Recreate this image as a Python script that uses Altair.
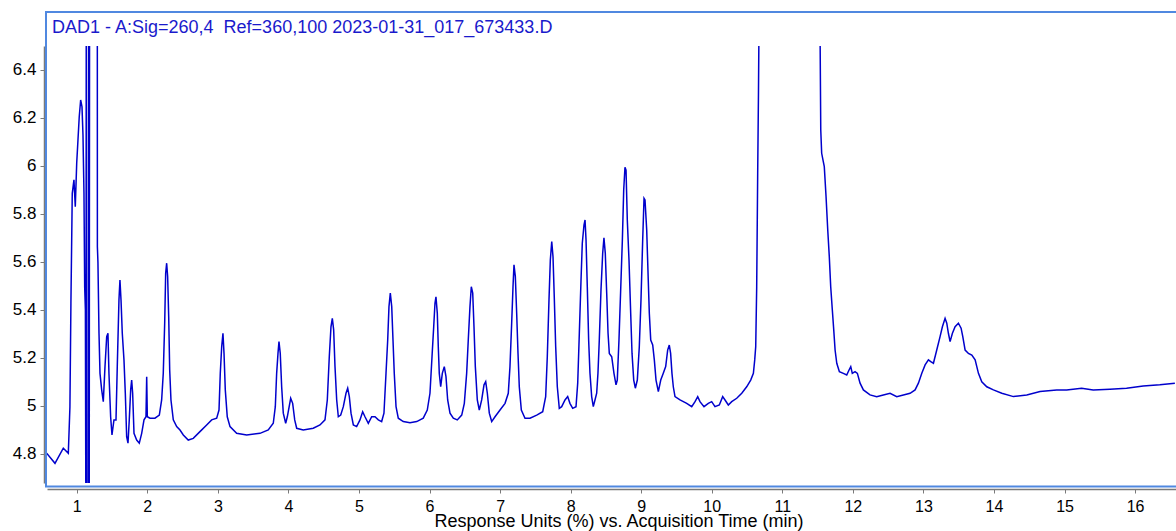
import altair as alt
import pandas as pd

# DAD1 chromatogram trace: retention time (min) and response (%)
time_min = [
    0.573, 0.691, 0.809, 0.880, 0.903, 0.917, 0.936, 0.960, 0.979, 0.999,
    1.017, 1.035, 1.055, 1.074, 1.088, 1.102, 1.112, 1.122, 1.130, 1.135,
    1.143, 1.165, 1.170, 1.176, 1.182, 1.291, 1.292, 1.300, 1.315, 1.329,
    1.353, 1.376, 1.400, 1.424, 1.442, 1.456, 1.480, 1.499, 1.527, 1.556,
    1.574, 1.598, 1.612, 1.627, 1.645, 1.669, 1.688, 1.707, 1.726, 1.744,
    1.764, 1.778, 1.792, 1.811, 1.849, 1.886, 1.920, 1.953, 1.981, 1.991,
    2.000, 2.038, 2.108, 2.170, 2.203, 2.226, 2.246, 2.260, 2.274, 2.288,
    2.303, 2.317, 2.335, 2.368, 2.416, 2.463, 2.510, 2.580, 2.651, 2.746,
    2.841, 2.912, 2.983, 3.016, 3.034, 3.054, 3.072, 3.087, 3.105, 3.133,
    3.172, 3.266, 3.408, 3.597, 3.714, 3.785, 3.814, 3.833, 3.852, 3.866,
    3.884, 3.904, 3.927, 3.961, 3.984, 4.032, 4.060, 4.089, 4.117, 4.210,
    4.352, 4.447, 4.518, 4.551, 4.579, 4.603, 4.622, 4.641, 4.660, 4.684,
    4.707, 4.741, 4.778, 4.816, 4.840, 4.863, 4.887, 4.920, 4.967, 5.014,
    5.052, 5.085, 5.132, 5.180, 5.227, 5.274, 5.321, 5.354, 5.383, 5.407,
    5.425, 5.444, 5.464, 5.482, 5.500, 5.525, 5.557, 5.628, 5.723, 5.818,
    5.911, 5.968, 6.006, 6.035, 6.059, 6.077, 6.091, 6.110, 6.124, 6.138,
    6.158, 6.181, 6.209, 6.233, 6.257, 6.290, 6.337, 6.393, 6.456, 6.493,
    6.526, 6.549, 6.573, 6.592, 6.612, 6.630, 6.649, 6.677, 6.705, 6.739,
    6.772, 6.796, 6.819, 6.847, 6.881, 6.928, 6.999, 7.070, 7.116, 7.140,
    7.164, 7.183, 7.197, 7.216, 7.235, 7.254, 7.272, 7.301, 7.353, 7.424,
    7.519, 7.604, 7.646, 7.669, 7.693, 7.712, 7.732, 7.750, 7.769, 7.788,
    7.811, 7.839, 7.873, 7.920, 7.958, 7.990, 8.029, 8.076, 8.100, 8.123,
    8.147, 8.165, 8.189, 8.204, 8.218, 8.236, 8.255, 8.274, 8.298, 8.321,
    8.345, 8.369, 8.387, 8.406, 8.430, 8.454, 8.472, 8.491, 8.511, 8.530,
    8.548, 8.582, 8.614, 8.643, 8.661, 8.685, 8.709, 8.733, 8.752, 8.770,
    8.785, 8.803, 8.827, 8.851, 8.870, 8.894, 8.917, 8.945, 8.973, 8.997,
    9.021, 9.040, 9.054, 9.078, 9.100, 9.115, 9.135, 9.163, 9.186, 9.210,
    9.243, 9.277, 9.313, 9.347, 9.375, 9.398, 9.417, 9.436, 9.455, 9.479,
    9.550, 9.645, 9.716, 9.763, 9.801, 9.833, 9.890, 9.951, 9.999, 10.046,
    10.107, 10.155, 10.188, 10.235, 10.283, 10.354, 10.425, 10.495, 10.552, 10.590,
    10.609, 10.623, 10.637, 10.651, 10.662, 10.670, 11.100, 11.534, 11.545, 11.558,
    11.581, 11.595, 11.620, 11.644, 11.666, 11.686, 11.709, 11.729, 11.748, 11.772,
    11.809, 11.865, 11.913, 11.946, 11.970, 11.992, 12.031, 12.064, 12.102, 12.149,
    12.243, 12.338, 12.432, 12.527, 12.622, 12.716, 12.811, 12.882, 12.929, 12.977,
    13.024, 13.071, 13.104, 13.142, 13.189, 13.236, 13.269, 13.307, 13.331, 13.354,
    13.378, 13.411, 13.449, 13.496, 13.534, 13.558, 13.591, 13.638, 13.686, 13.733,
    13.780, 13.827, 13.898, 13.992, 14.111, 14.276, 14.465, 14.653, 14.889, 15.030,
    15.242, 15.407, 15.643, 15.879, 16.115, 16.351, 16.564,
]
response = [
    4.803, 4.761, 4.824, 4.803, 4.997, 5.428, 5.886, 5.942, 5.830, 6.011,
    6.108, 6.205, 6.275, 6.247, 6.129, 5.886, 5.497, 5.400, 4.400, 7.000,
    4.400, 4.400, 7.000, 4.400, 7.000, 7.000, 5.664, 5.600, 5.303, 5.136,
    5.067, 5.018, 5.164, 5.289, 5.303, 5.136, 4.955, 4.879, 4.942, 4.942,
    5.164, 5.442, 5.525, 5.442, 5.303, 5.192, 5.053, 4.872, 4.845, 4.942,
    5.067, 5.108, 5.053, 4.886, 4.858, 4.845, 4.886, 4.942, 4.955, 5.122,
    4.955, 4.949, 4.949, 4.962, 5.025, 5.136, 5.345, 5.553, 5.595, 5.539,
    5.372, 5.150, 5.025, 4.942, 4.914, 4.900, 4.879, 4.858, 4.865, 4.893,
    4.921, 4.942, 4.949, 4.983, 5.136, 5.247, 5.303, 5.219, 5.067, 4.955,
    4.914, 4.886, 4.879, 4.886, 4.900, 4.928, 4.997, 5.136, 5.219, 5.268,
    5.219, 5.080, 4.970, 4.928, 4.955, 5.032, 5.011, 4.942, 4.907, 4.900,
    4.907, 4.921, 4.942, 5.025, 5.205, 5.330, 5.365, 5.317, 5.164, 5.025,
    4.955, 4.962, 4.997, 5.053, 5.074, 5.039, 4.970, 4.921, 4.914, 4.942,
    4.976, 4.955, 4.928, 4.955, 4.955, 4.942, 4.935, 4.970, 5.136, 5.275,
    5.414, 5.470, 5.414, 5.275, 5.136, 4.997, 4.949, 4.935, 4.930, 4.935,
    4.949, 4.983, 5.053, 5.205, 5.330, 5.428, 5.455, 5.386, 5.247, 5.136,
    5.080, 5.136, 5.164, 5.122, 5.025, 4.970, 4.949, 4.942, 4.962, 5.011,
    5.136, 5.275, 5.414, 5.497, 5.470, 5.330, 5.164, 5.025, 4.983, 5.025,
    5.088, 5.101, 5.053, 4.970, 4.935, 4.955, 4.983, 5.011, 5.053, 5.164,
    5.345, 5.497, 5.588, 5.539, 5.386, 5.219, 5.080, 4.983, 4.949, 4.949,
    4.962, 4.976, 5.039, 5.205, 5.442, 5.608, 5.685, 5.622, 5.442, 5.247,
    5.080, 4.990, 4.997, 5.025, 5.039, 5.011, 4.990, 4.997, 5.095, 5.303,
    5.525, 5.678, 5.754, 5.775, 5.692, 5.497, 5.275, 5.136, 5.039, 4.997,
    5.025, 5.053, 5.136, 5.275, 5.483, 5.636, 5.701, 5.636, 5.470, 5.303,
    5.219, 5.205, 5.136, 5.088, 5.108, 5.275, 5.483, 5.692, 5.900, 5.995,
    5.983, 5.775, 5.608, 5.386, 5.219, 5.108, 5.074, 5.108, 5.247, 5.442,
    5.692, 5.865, 5.858, 5.733, 5.525, 5.386, 5.275, 5.254, 5.192, 5.108,
    5.060, 5.108, 5.136, 5.164, 5.233, 5.254, 5.219, 5.136, 5.080, 5.039,
    5.025, 5.011, 4.997, 5.018, 5.039, 5.018, 4.997, 5.011, 5.018, 4.997,
    5.004, 5.039, 5.025, 5.004, 5.018, 5.032, 5.053, 5.080, 5.108, 5.136,
    5.192, 5.247, 5.497, 5.970, 6.300, 6.600, 9.000, 6.600, 6.150, 6.053,
    6.018, 5.997, 5.872, 5.733, 5.622, 5.497, 5.400, 5.317, 5.233, 5.178,
    5.143, 5.136, 5.129, 5.150, 5.164, 5.136, 5.143, 5.136, 5.095, 5.067,
    5.046, 5.039, 5.046, 5.053, 5.039, 5.046, 5.053, 5.067, 5.095, 5.136,
    5.171, 5.192, 5.185, 5.178, 5.233, 5.289, 5.330, 5.365, 5.345, 5.303,
    5.268, 5.303, 5.330, 5.345, 5.324, 5.289, 5.233, 5.219, 5.212, 5.192,
    5.136, 5.101, 5.080, 5.067, 5.053, 5.039, 5.046, 5.060, 5.067, 5.067,
    5.074, 5.067, 5.070, 5.074, 5.083, 5.088, 5.095,
]

x_ticks = list(range(1, 17))
y_ticks = [4.8, 5.0, 5.2, 5.4, 5.6, 5.8, 6.0, 6.2, 6.4]
header_text = ["DAD1 - A:Sig=260,4\u00a0 Ref=360,100 2023-01-31_017_673433.D"]
x_title_text = ["Response Units (%) vs. Acquisition Time (min)"]

TRACE_BLUE = "#0000cc"
FRAME_BLUE = "#5088e0"
AXIS_GRAY = "#7a7a7a"
FONT = "Liberation Sans"

W, H = 1129, 437

trace_df = pd.DataFrame({"time": time_min, "response": response})

trace = alt.Chart(trace_df).mark_line(
    color=TRACE_BLUE, strokeWidth=1.5, clip=True
).encode(
    x=alt.X(
        "time:Q",
        scale=alt.Scale(domain=[0.578, 16.58], nice=False, zero=False),
        axis=alt.Axis(
            values=x_ticks, format="d", title=None, grid=False, offset=6,
            tickSize=4, tickColor=AXIS_GRAY, domainColor=AXIS_GRAY,
            domainWidth=1.5, labelFont=FONT, labelFontSize=16,
            labelColor="#000000", labelPadding=5,
        ),
    ),
    y=alt.Y(
        "response:Q",
        scale=alt.Scale(domain=[4.679, 6.5], nice=False, zero=False),
        axis=alt.Axis(
            values=y_ticks, format=".2~f", title=None, grid=False, offset=3,
            tickSize=4, tickColor=AXIS_GRAY, domainColor=AXIS_GRAY,
            domainWidth=1.5, labelFont=FONT, labelFontSize=17,
            labelColor="#000000", labelPadding=4,
        ),
    ),
)

# Blue box around the plot, taller than the data area to hold the header
frame = alt.Chart(pd.DataFrame({"k": [0]})).mark_rect(
    filled=False, stroke=FRAME_BLUE, strokeWidth=2
).encode(
    x=alt.value(-1), x2=alt.value(W + 10),
    y=alt.value(-34), y2=alt.value(H + 3.5),
)

header = alt.Chart(pd.DataFrame({"label": header_text})).mark_text(
    align="left", baseline="alphabetic", font=FONT, fontSize=18,
    color="#1a1acc",
).encode(x=alt.value(5), y=alt.value(-13), text="label:N")

x_title = alt.Chart(pd.DataFrame({"label": x_title_text})).mark_text(
    align="center", baseline="alphabetic", font=FONT, fontSize=18,
    color="#000000",
).encode(x=alt.value(572), y=alt.value(481), text="label:N")

chart = alt.layer(frame, trace, header, x_title).properties(
    width=W, height=H,
    background="white",
    autosize=alt.AutoSizeParams(type="none"),
    padding={"left": 47, "top": 46, "right": 0, "bottom": 48},
).configure_view(stroke="transparent", strokeWidth=0)

chart.save("out.html", embed_options={"renderer": "svg", "actions": False})
